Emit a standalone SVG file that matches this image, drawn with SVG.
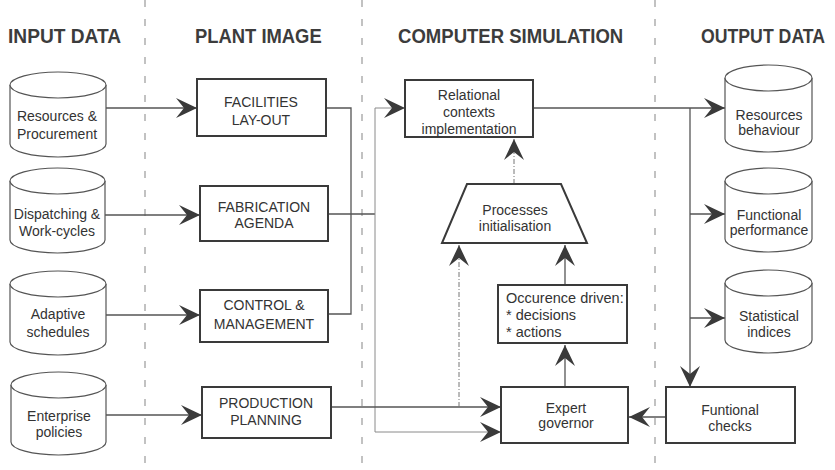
<svg xmlns="http://www.w3.org/2000/svg" width="835" height="470" viewBox="0 0 835 470">
<style>
.bg{fill:#fff}
.sep{stroke:#9a9a9a;stroke-width:1.2;stroke-dasharray:7,12;fill:none}
.hd{font-family:"Liberation Sans",Arial,sans-serif;font-size:21px;font-weight:bold;fill:#3c3c3c}
.t{font-family:"Liberation Sans",Arial,sans-serif;font-size:14px;fill:#333;text-anchor:middle}
.tl{font-family:"Liberation Sans",Arial,sans-serif;font-size:14.5px;fill:#333}
.box{fill:#fff;stroke:#3a3a3a;stroke-width:2}
.cyl{fill:#fff;stroke:#555;stroke-width:1.2}
.ln{fill:none;stroke:#555;stroke-width:1.3}
.faint{fill:none;stroke:#8a8a8a;stroke-width:1}
.dash{fill:none;stroke:#777;stroke-width:1;stroke-dasharray:5,2,1,2}
</style>
<defs>
<marker id="arr" viewBox="-22 -11 23 22" refX="0" refY="0" markerWidth="23" markerHeight="22" markerUnits="userSpaceOnUse" orient="auto">
<path d="M0,0 L-21,-10 L-13,0 L-21,10 Z" fill="#3a3a3a"/>
</marker>
</defs>
<rect class="bg" x="0" y="0" width="835" height="470"/>

<g id="separators">
<line class="sep" x1="145" y1="0" x2="145" y2="470"/>
<line class="sep" x1="362" y1="0" x2="362" y2="470"/>
<line class="sep" x1="655" y1="0" x2="655" y2="470"/>
</g>

<g id="headers">
<text class="hd" transform="translate(8,43) scale(0.85,1)" x="0" y="0" textLength="133" lengthAdjust="spacingAndGlyphs">INPUT DATA</text>
<text class="hd" transform="translate(195,43) scale(0.85,1)" x="0" y="0" textLength="149" lengthAdjust="spacingAndGlyphs">PLANT IMAGE</text>
<text class="hd" transform="translate(398,43) scale(0.85,1)" x="0" y="0" textLength="265" lengthAdjust="spacingAndGlyphs">COMPUTER SIMULATION</text>
<text class="hd" transform="translate(701,43) scale(0.85,1)" x="0" y="0" textLength="146" lengthAdjust="spacingAndGlyphs">OUTPUT DATA</text>
</g>

<g id="connectors">
<line class="ln" x1="106" y1="108" x2="197" y2="108" marker-end="url(#arr)"/>
<line class="ln" x1="105" y1="215" x2="200" y2="215" marker-end="url(#arr)"/>
<line class="ln" x1="106" y1="315" x2="200" y2="315" marker-end="url(#arr)"/>
<line class="ln" x1="106" y1="415" x2="202" y2="415" marker-end="url(#arr)"/>
<path class="ln" d="M326,108 H351 V314 H328"/>
<line class="ln" x1="328" y1="214" x2="375" y2="214"/>
<path class="faint" d="M375,108 V432"/>
<line class="faint" x1="375" y1="108" x2="405" y2="108" marker-end="url(#arr)"/>
<line class="faint" x1="375" y1="432" x2="501" y2="432" marker-end="url(#arr)"/>
<line class="ln" x1="331" y1="407" x2="501" y2="407" marker-end="url(#arr)"/>
<line class="dash" x1="459" y1="407" x2="459" y2="245" marker-end="url(#arr)"/>
<line class="dash" x1="514" y1="184" x2="514" y2="139" marker-end="url(#arr)"/>
<line class="ln" x1="565" y1="285" x2="565" y2="245" marker-end="url(#arr)"/>
<line class="ln" x1="565" y1="387" x2="565" y2="345" marker-end="url(#arr)"/>
<line class="ln" x1="533" y1="108" x2="725" y2="108" marker-end="url(#arr)"/>
<line class="ln" x1="690" y1="108" x2="690" y2="387" marker-end="url(#arr)"/>
<line class="ln" x1="690" y1="214" x2="725" y2="214" marker-end="url(#arr)"/>
<line class="ln" x1="690" y1="318" x2="725" y2="318" marker-end="url(#arr)"/>
<line class="ln" x1="666" y1="417" x2="629" y2="417" marker-end="url(#arr)"/>
</g>

<g id="in-resources">
<path class="cyl" d="M10,85 A48,13 0 0 1 106,85 V144 A48,13 0 0 1 10,144 Z"/>
<path class="cyl" d="M10,85 A48,13 0 0 0 106,85"/>
<text class="t" x="57" y="121">Resources &amp;</text>
<text class="t" x="57" y="139">Procurement</text>
</g>
<g id="in-dispatching">
<path class="cyl" d="M10,181 A47.5,13 0 0 1 105,181 V240 A47.5,13 0 0 1 10,240 Z"/>
<path class="cyl" d="M10,181 A47.5,13 0 0 0 105,181"/>
<text class="t" x="57" y="219">Dispatching &amp;</text>
<text class="t" x="57" y="236">Work-cycles</text>
</g>
<g id="in-adaptive">
<path class="cyl" d="M10,284 A48,13 0 0 1 106,284 V342 A48,13 0 0 1 10,342 Z"/>
<path class="cyl" d="M10,284 A48,13 0 0 0 106,284"/>
<text class="t" x="58" y="319">Adaptive</text>
<text class="t" x="58" y="337">schedules</text>
</g>
<g id="in-enterprise">
<path class="cyl" d="M11,385 A47.5,13 0 0 1 106,385 V442 A47.5,13 0 0 1 11,442 Z"/>
<path class="cyl" d="M11,385 A47.5,13 0 0 0 106,385"/>
<text class="t" x="59" y="421">Enterprise</text>
<text class="t" x="59" y="437">policies</text>
</g>

<g id="facilities">
<rect class="box" x="197" y="79" width="129" height="57"/>
<text class="t" x="261" y="107">FACILITIES</text>
<text class="t" x="261" y="125">LAY-OUT</text>
</g>
<g id="fabrication">
<rect class="box" x="200" y="186" width="128" height="55"/>
<text class="t" x="264" y="212">FABRICATION</text>
<text class="t" x="264" y="228">AGENDA</text>
</g>
<g id="control">
<rect class="box" x="200" y="290" width="128" height="52"/>
<text class="t" x="264" y="310">CONTROL &amp;</text>
<text class="t" x="264" y="329">MANAGEMENT</text>
</g>
<g id="production">
<rect class="box" x="202" y="387" width="129" height="51"/>
<text class="t" x="266" y="408">PRODUCTION</text>
<text class="t" x="266" y="425">PLANNING</text>
</g>

<g id="relational">
<rect class="box" x="405" y="80" width="128" height="57"/>
<text class="t" x="469" y="100">Relational</text>
<text class="t" x="469" y="117">contexts</text>
<text class="t" x="469" y="134">implementation</text>
</g>
<g id="processes">
<path class="box" d="M467,184 H561 L587,243 H442 Z"/>
<text class="t" x="515" y="215">Processes</text>
<text class="t" x="515" y="231">initialisation</text>
</g>
<g id="occurence">
<rect class="box" x="498" y="285" width="129" height="58"/>
<text class="tl" x="506" y="303">Occurence driven:</text>
<text class="tl" x="506" y="320">* decisions</text>
<text class="tl" x="506" y="337">* actions</text>
</g>
<g id="expert">
<rect class="box" x="501" y="387" width="127" height="56"/>
<text class="t" x="566" y="413">Expert</text>
<text class="t" x="566" y="428">governor</text>
</g>

<g id="out-resources">
<path class="cyl" d="M725,78 A43.5,13 0 0 1 812,78 V139 A43.5,13 0 0 1 725,139 Z"/>
<path class="cyl" d="M725,78 A43.5,13 0 0 0 812,78"/>
<text class="t" x="769" y="120">Resources</text>
<text class="t" x="769" y="135">behaviour</text>
</g>
<g id="out-functional">
<path class="cyl" d="M725,181 A43.5,13 0 0 1 812,181 V239 A43.5,13 0 0 1 725,239 Z"/>
<path class="cyl" d="M725,181 A43.5,13 0 0 0 812,181"/>
<text class="t" x="769" y="220">Functional</text>
<text class="t" x="769" y="235">performance</text>
</g>
<g id="out-statistical">
<path class="cyl" d="M725,283 A43.5,13 0 0 1 812,283 V340 A43.5,13 0 0 1 725,340 Z"/>
<path class="cyl" d="M725,283 A43.5,13 0 0 0 812,283"/>
<text class="t" x="769" y="321">Statistical</text>
<text class="t" x="769" y="337">indices</text>
</g>
<g id="checks">
<rect class="box" x="666" y="387" width="129" height="56"/>
<text class="t" x="730" y="415">Funtional</text>
<text class="t" x="730" y="431">checks</text>
</g>
</svg>
